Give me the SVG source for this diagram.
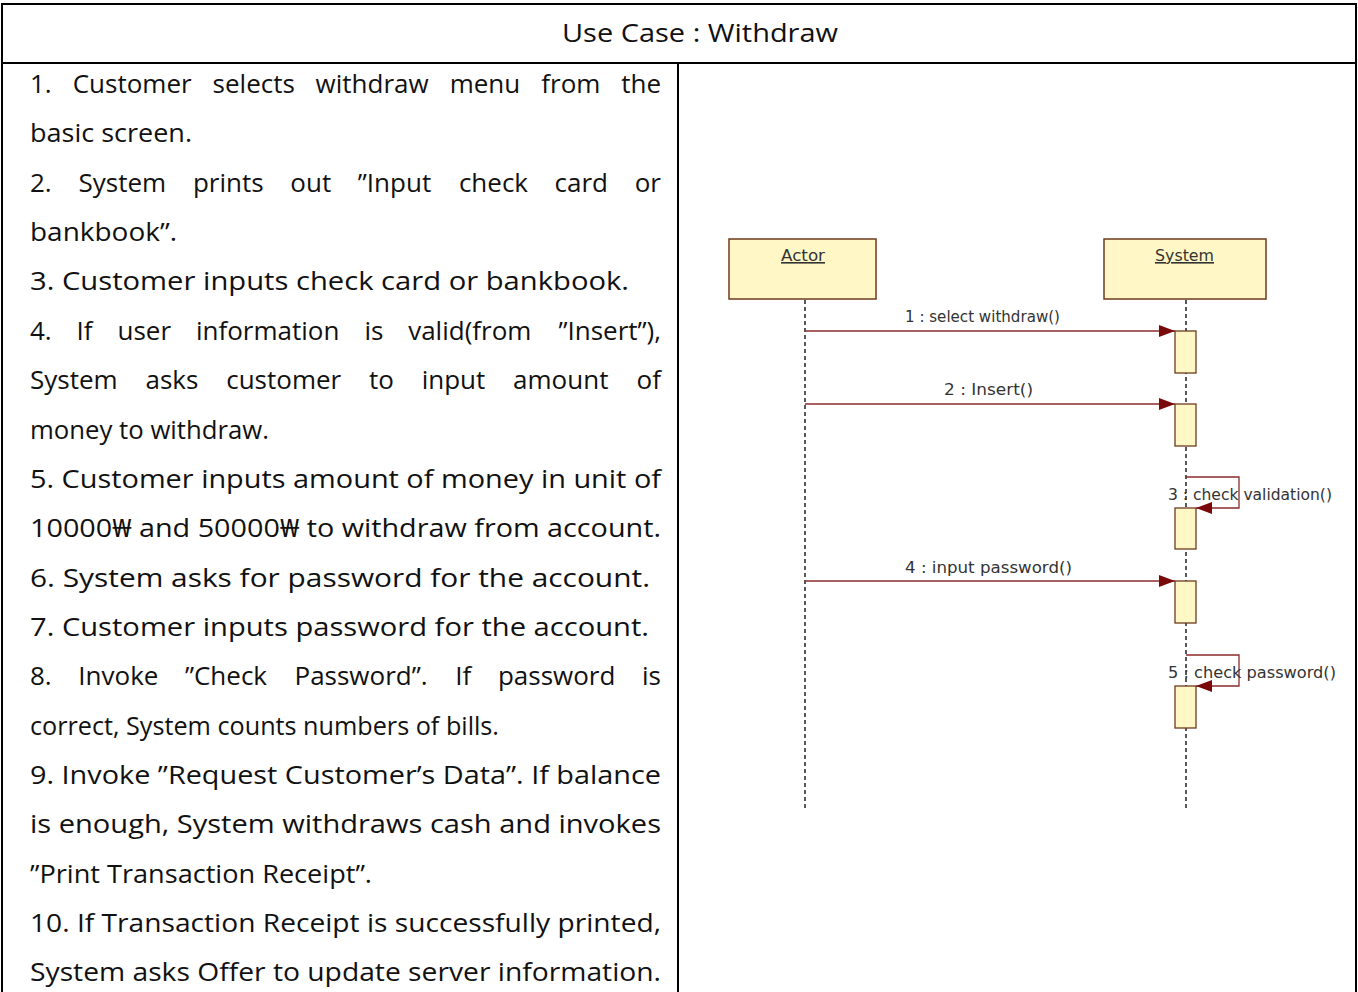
<svg xmlns="http://www.w3.org/2000/svg" width="1358" height="992" viewBox="0 0 1358 992">
<defs>
<style>
.tbl{fill:none;stroke:#000;stroke-width:2}
.t{font-family:"Open Sans","Noto Sans","Noto Sans CJK KR",sans-serif;font-size:26px;fill:#111}
.box{fill:#FFF8C6;stroke:#6E3A1E;stroke-width:1.5}
.act{fill:#FFF8C6;stroke:#6E3A1E;stroke-width:1.3}
.life{stroke:#222;stroke-width:1.5;stroke-dasharray:4 3;fill:none}
.msg{stroke:#8B2B2B;stroke-width:1.3;fill:none}
.lbl{font-family:"DejaVu Sans","Liberation Sans",sans-serif;font-size:15.5px;fill:#333}
.hd{font-family:"DejaVu Sans","Liberation Sans",sans-serif;font-size:16px;fill:#333;text-decoration:underline}
</style>
<marker id="ah" viewBox="0 0 16 12" refX="16" refY="6" markerWidth="16" markerHeight="12" markerUnits="userSpaceOnUse" orient="auto">
<path d="M0,0 L16,6 L0,12 Z" fill="#7A0A0A"/>
</marker>
</defs>
<rect x="0" y="0" width="1358" height="992" fill="#fff"/>
<g id="table">
<rect class="tbl" x="2" y="4" width="1354" height="1010"/>
<line class="tbl" x1="2" y1="63" x2="1356" y2="63"/>
<line class="tbl" x1="678" y1="63" x2="678" y2="992"/>
<text class="t" x="700" y="42" text-anchor="middle" textLength="276" lengthAdjust="spacingAndGlyphs">Use Case : Withdraw</text>
</g>
<g id="steps" class="t">
<text y="93"><tspan x="30">1.</tspan><tspan x="72.7">Customer</tspan><tspan x="212.6">selects</tspan><tspan x="315.6">withdraw</tspan><tspan x="449.7">menu</tspan><tspan x="541.3">from</tspan></text>
<text x="661" y="93" text-anchor="end">the</text>
<text x="30" y="142.4" textLength="162" lengthAdjust="spacingAndGlyphs">basic screen.</text>
<text y="191.7"><tspan x="30">2.</tspan><tspan x="78.5">System</tspan><tspan x="192.9">prints</tspan><tspan x="290.3">out</tspan><tspan x="357.8">”Input</tspan><tspan x="458.9">check</tspan><tspan x="554.5">card</tspan></text>
<text x="661" y="191.7" text-anchor="end">or</text>
<text x="30" y="241.1" textLength="147" lengthAdjust="spacingAndGlyphs">bankbook”.</text>
<text x="30" y="290.4" textLength="599" lengthAdjust="spacingAndGlyphs">3. Customer inputs check card or bankbook.</text>
<text y="339.8"><tspan x="30">4.</tspan><tspan x="76.6">If</tspan><tspan x="117.5">user</tspan><tspan x="195.9">information</tspan><tspan x="364.4">is</tspan><tspan x="408.2">valid(from</tspan></text>
<text x="661" y="339.8" text-anchor="end">”Insert”),</text>
<text y="389.1"><tspan x="30">System</tspan><tspan x="145.5">asks</tspan><tspan x="226.2">customer</tspan><tspan x="369">to</tspan><tspan x="421.7">input</tspan><tspan x="513.1">amount</tspan></text>
<text x="661" y="389.1" text-anchor="end">of</text>
<text x="30" y="438.5" textLength="239" lengthAdjust="spacingAndGlyphs">money to withdraw.</text>
<text x="30" y="487.8" textLength="631" lengthAdjust="spacingAndGlyphs">5. Customer inputs amount of money in unit of</text>
<text x="30" y="537.2" textLength="631" lengthAdjust="spacingAndGlyphs">10000₩ and 50000₩ to withdraw from account.</text>
<text x="30" y="586.5" textLength="620" lengthAdjust="spacingAndGlyphs">6. System asks for password for the account.</text>
<text x="30" y="635.9" textLength="619" lengthAdjust="spacingAndGlyphs">7. Customer inputs password for the account.</text>
<text y="685.2"><tspan x="30">8.</tspan><tspan x="78.3">Invoke</tspan><tspan x="184.9">”Check</tspan><tspan x="294.5">Password”.</tspan><tspan x="455.3">If</tspan><tspan x="497.9">password</tspan></text>
<text x="661" y="685.2" text-anchor="end">is</text>
<text x="30" y="734.6" textLength="469" lengthAdjust="spacingAndGlyphs">correct, System counts numbers of bills.</text>
<text x="30" y="783.9" textLength="631" lengthAdjust="spacingAndGlyphs">9. Invoke ”Request Customer’s Data”. If balance</text>
<text x="30" y="833.3" textLength="631" lengthAdjust="spacingAndGlyphs">is enough, System withdraws cash and invokes</text>
<text x="30" y="882.6" textLength="342" lengthAdjust="spacingAndGlyphs">”Print Transaction Receipt”.</text>
<text x="30" y="932" textLength="631" lengthAdjust="spacingAndGlyphs">10. If Transaction Receipt is successfully printed,</text>
<text x="30" y="981.3" textLength="631" lengthAdjust="spacingAndGlyphs">System asks Offer to update server information.</text>
</g>
<g id="node-actor">
<rect class="box" x="729" y="239" width="147" height="60"/>
<text class="hd" x="781" y="261" textLength="44" lengthAdjust="spacingAndGlyphs">Actor</text>
</g>
<g id="node-system">
<rect class="box" x="1104" y="239" width="162" height="60"/>
<text class="hd" x="1155" y="261" textLength="59" lengthAdjust="spacingAndGlyphs">System</text>
</g>
<g id="lifelines">
<line class="life" x1="805" y1="300" x2="805" y2="810"/>
<line class="life" x1="1186" y1="300" x2="1186" y2="810"/>
</g>
<g id="activations">
<rect class="act" x="1175" y="331" width="21" height="42"/>
<rect class="act" x="1175" y="404" width="21" height="42"/>
<rect class="act" x="1175" y="508" width="21" height="41"/>
<rect class="act" x="1175" y="581" width="21" height="42"/>
<rect class="act" x="1175" y="686" width="21" height="42"/>
</g>
<g id="connectors">
<line class="msg" x1="805" y1="331" x2="1175" y2="331" marker-end="url(#ah)"/>
<line class="msg" x1="805" y1="404" x2="1175" y2="404" marker-end="url(#ah)"/>
<path class="msg" d="M1186,477 H1239 V508 H1196" marker-end="url(#ah)"/>
<line class="msg" x1="805" y1="581" x2="1175" y2="581" marker-end="url(#ah)"/>
<path class="msg" d="M1186,655 H1239 V686 H1196" marker-end="url(#ah)"/>
<text class="lbl" x="905" y="322" textLength="155" lengthAdjust="spacingAndGlyphs">1 : select withdraw()</text>
<text class="lbl" x="944" y="395" textLength="89" lengthAdjust="spacingAndGlyphs">2 : Insert()</text>
<text class="lbl" x="1168" y="500" textLength="164" lengthAdjust="spacingAndGlyphs">3 : check validation()</text>
<text class="lbl" x="905" y="573" textLength="167" lengthAdjust="spacingAndGlyphs">4 : input password()</text>
<text class="lbl" x="1168" y="678" textLength="168" lengthAdjust="spacingAndGlyphs">5 : check password()</text>
</g>
</svg>
